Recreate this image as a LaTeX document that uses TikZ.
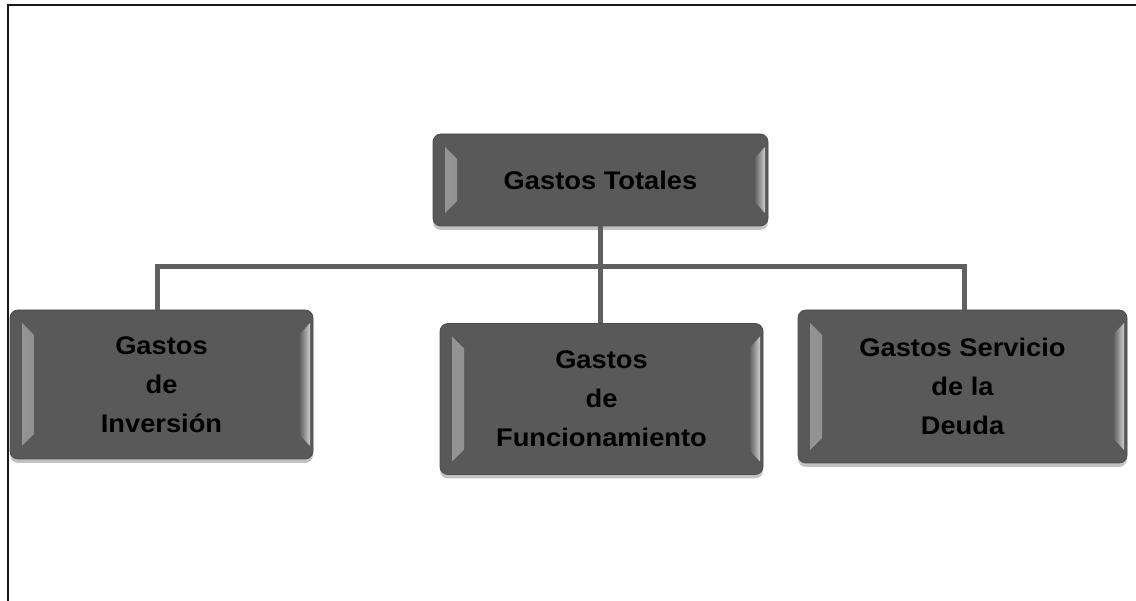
\documentclass[tikz,border=0pt]{standalone}
\usepackage{fontspec}
\setmainfont{Liberation Sans}[FakeStretch=1.07]
\usetikzlibrary{shadows}
\definecolor{boxgray}{RGB}{89,89,89}
\definecolor{linegray}{RGB}{96,96,96}
\definecolor{bevel}{RGB}{150,150,150}
\definecolor{bevelhi}{RGB}{205,205,205}
\tikzset{
  gbox/.style={rounded corners=8pt, fill=boxgray, draw=boxgray!85!black, line width=0.8pt,
    align=center, inner sep=0pt,
    font=\fontsize{25.5}{39}\selectfont\bfseries,
    drop shadow={shadow xshift=0pt, shadow yshift=-4pt, opacity=0.4, fill=black!60},
    path picture={
      \fill[sharp corners, left color=bevel, right color=boxgray]
        ([xshift=12pt,yshift=-13pt]path picture bounding box.north west) --
        ([xshift=24pt,yshift=-25pt]path picture bounding box.north west) --
        ([xshift=24pt,yshift=25pt]path picture bounding box.south west) --
        ([xshift=12pt,yshift=13pt]path picture bounding box.south west) -- cycle;
      \fill[sharp corners, left color=boxgray, right color=bevelhi]
        ([xshift=-14pt,yshift=-25pt]path picture bounding box.north east) --
        ([xshift=-3pt,yshift=-13pt]path picture bounding box.north east) --
        ([xshift=-3pt,yshift=13pt]path picture bounding box.south east) --
        ([xshift=-14pt,yshift=25pt]path picture bounding box.south east) -- cycle;
    }},
  conn/.style={draw=linegray, line width=5pt},
  frame/.style={draw=black!90, line width=2pt}
}
\begin{document}
\begin{tikzpicture}[x=1pt,y=-1pt]
\useasboundingbox (0,0) rectangle (1136,601);
\draw[frame] (8,601) -- (8,5) -- (1136,5);
\coordinate (bar) at (600,267);
\node[gbox, minimum width=335pt, minimum height=92pt] (top) at (600.5,180) {Gastos Totales};
\node[gbox, minimum width=303pt, minimum height=149pt] (inv) at (161.5,384.5) {Gastos\\de\\Inversión};
\node[gbox, minimum width=323pt, minimum height=151pt] (fun) at (601.5,399) {Gastos\\de\\Funcionamiento};
\node[gbox, minimum width=329pt, minimum height=153pt] (deu) at (962.5,386.5) {Gastos Servicio\\de la\\Deuda};
\draw[conn] ([xshift=-0.5pt]top.south) -- ([xshift=-1.5pt]fun.north);
\draw[conn] ([xshift=-4.5pt]inv.north) |- (bar) -| ([xshift=1.5pt]deu.north);
\end{tikzpicture}
\end{document}
